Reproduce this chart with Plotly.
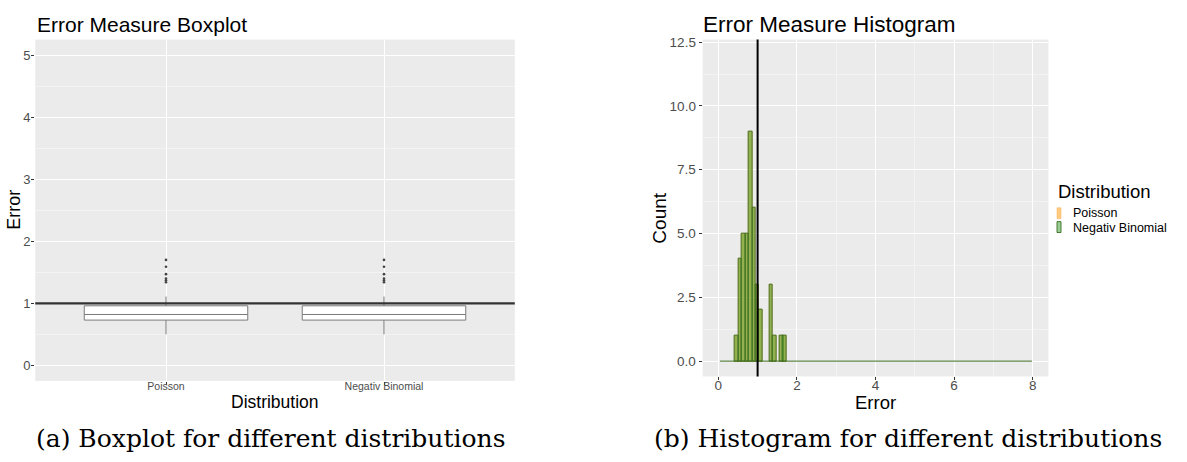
import plotly.graph_objects as go

# ---- data -------------------------------------------------------------
distributions = ["Poisson", "Negativ Binomial"]

# boxplot summary statistics (same order as distributions)
box_q1 = [0.73, 0.73]
box_median = [0.82, 0.82]
box_q3 = [0.96, 0.96]
box_lower = [0.50, 0.50]
box_upper = [1.11, 1.11]
outliers_poisson = [1.34, 1.37, 1.40, 1.47, 1.59, 1.70]
outliers_negbin = [1.34, 1.37, 1.40, 1.47, 1.59, 1.70]

# histogram: bin centres and counts (non-empty bins)
bin_width = 0.0875
bin_centers = [0.47, 0.56, 0.64, 0.73, 0.82, 0.91, 0.99, 1.08, 1.34, 1.43, 1.61, 1.69]
counts_poisson = [1, 4, 5, 5, 9, 6, 3, 2, 3, 1, 1, 1]
counts_negbin = [1, 4, 5, 5, 9, 6, 3, 2, 3, 1, 1, 1]
hist_span = [0.04, 7.98]          # extent of the (mostly empty) binning
zero_counts = [0, 0]

reference_error = 1.0

# ---- styling ----------------------------------------------------------
W, H = 1187, 462
SANS = "Liberation Sans, Arial, sans-serif"
SERIF = "DejaVu Serif, Liberation Serif, serif"
TICK = "#4d4d4d"
PANEL = "#EBEBEB"
POIS_FILL = "rgba(255,153,0,0.5)"
POIS_LINE = "rgba(240,170,90,0.6)"
NB_FILL = "rgba(51,160,44,0.5)"
NB_LINE = "#3d6b1f"


def px(x):
    return x / W


def py(y):
    return 1 - y / H


fig = go.Figure()

# ---- left panel: boxplot ---------------------------------------------
fig.add_trace(go.Box(
    x=distributions, q1=box_q1, median=box_median, q3=box_q3,
    lowerfence=box_lower, upperfence=box_upper,
    width=0.75, whiskerwidth=0, boxpoints=False,
    fillcolor="white", line=dict(color="#7a7a7a", width=1),
    xaxis="x", yaxis="y", showlegend=False, hoverinfo="skip",
))
for name, pts in zip(distributions, [outliers_poisson, outliers_negbin]):
    fig.add_trace(go.Scatter(
        x=[name] * len(pts), y=pts, mode="markers",
        marker=dict(size=2.6, color="#444444"),
        xaxis="x", yaxis="y", showlegend=False, hoverinfo="skip",
    ))

# ---- right panel: histogram ------------------------------------------
fig.add_trace(go.Scatter(
    x=hist_span, y=zero_counts, mode="lines",
    line=dict(color=NB_LINE, width=1),
    xaxis="x2", yaxis="y2", showlegend=False, hoverinfo="skip",
))
fig.add_trace(go.Bar(
    x=bin_centers, y=counts_poisson, width=bin_width,
    marker=dict(color=POIS_FILL, line=dict(color=POIS_LINE, width=0.8)),
    xaxis="x2", yaxis="y2", showlegend=False, hoverinfo="skip",
))
fig.add_trace(go.Bar(
    x=bin_centers, y=counts_negbin, width=bin_width,
    marker=dict(color=NB_FILL, line=dict(color=NB_LINE, width=0.9)),
    xaxis="x2", yaxis="y2", showlegend=False, hoverinfo="skip",
))

# reference lines at error = 1
fig.add_shape(type="line", xref="x domain", yref="y", x0=0, x1=1,
              y0=reference_error, y1=reference_error,
              line=dict(color="#333333", width=2.2))
fig.add_shape(type="line", xref="x2", yref="y2 domain", x0=reference_error,
              x1=reference_error, y0=0, y1=1,
              line=dict(color="black", width=2))

axis_common = dict(
    showline=False, zeroline=False, gridcolor="white", gridwidth=1.1,
    ticks="outside", ticklen=3, tickcolor="#333333", tickwidth=1,
)

fig.update_layout(
    width=W, height=H, margin=dict(l=0, r=0, t=0, b=0),
    paper_bgcolor="white", plot_bgcolor=PANEL,
    barmode="overlay", bargap=0,
    font=dict(family=SANS, color="black"),
    xaxis=dict(
        **axis_common, domain=[px(35.2), px(514.8)], anchor="y",
        type="category", categoryorder="array", categoryarray=distributions,
        range=[-0.6, 1.6], tickfont=dict(size=10.5, color=TICK),
        ticklabelstandoff=-7,
    ),
    yaxis=dict(
        **axis_common, domain=[py(380), py(35)], anchor="x",
        range=[-0.25, 5.25], dtick=1, tickfont=dict(size=13, color=TICK),
        ticklabelstandoff=-2,
        minor=dict(dtick=0.5, gridcolor="#F3F3F3", gridwidth=0.6, showgrid=True),
    ),
    xaxis2=dict(
        **axis_common, domain=[px(702.6), px(1048.4)], anchor="y2",
        range=[-0.4, 8.4], dtick=2, tickfont=dict(size=13.5, color=TICK),
        ticklabelstandoff=-7,
        minor=dict(dtick=1, gridcolor="#F3F3F3", gridwidth=0.6, showgrid=True),
    ),
    yaxis2=dict(
        **axis_common, domain=[py(375.5), py(35)], anchor="x2",
        range=[-0.6, 12.6], dtick=2.5, tickformat=".1f",
        tickfont=dict(size=13.5, color=TICK),
        minor=dict(dtick=1.25, gridcolor="#F3F3F3", gridwidth=0.6, showgrid=True),
    ),
)

ann = []


def text(t, x, y, size, xanchor="center", angle=0, family=SANS, color="black"):
    ann.append(dict(text=t, x=px(x), y=py(y), xref="paper", yref="paper",
                    xanchor=xanchor, yanchor="middle", showarrow=False,
                    textangle=angle, font=dict(size=size, family=family, color=color)))


# titles
text("Error Measure Boxplot", 35, 20, 21, xanchor="left")
text("Error Measure Histogram", 701, 20, 22.5, xanchor="left")
# axis titles
text("Distribution", 275, 401, 17.5)
text("Error", 14, 207, 18, angle=-90)
text("Error", 875, 402, 18.5)
text("Count", 660, 216, 19, angle=-90)
# legend
text("Distribution", 1056, 189, 18.5, xanchor="left")
text("Poisson", 1071, 210, 12.5, xanchor="left")
text("Negativ Binomial", 1071, 225.5, 12.5, xanchor="left")
# captions
text("(a) Boxplot for different distributions", 270, 438, 25, family=SERIF)
text("(b) Histogram for different distributions", 908, 438, 25, family=SERIF)

fig.update_layout(annotations=ann)

# legend keys
fig.add_shape(type="rect", xref="paper", yref="paper",
              x0=px(1057), x1=px(1061), y0=py(216), y1=py(205),
              fillcolor=POIS_FILL, line=dict(color=POIS_LINE, width=0.8))
fig.add_shape(type="rect", xref="paper", yref="paper",
              x0=px(1057), x1=px(1061), y0=py(230), y1=py(219),
              fillcolor=NB_FILL, line=dict(color=NB_LINE, width=0.9))

fig.write_html("out.html")
